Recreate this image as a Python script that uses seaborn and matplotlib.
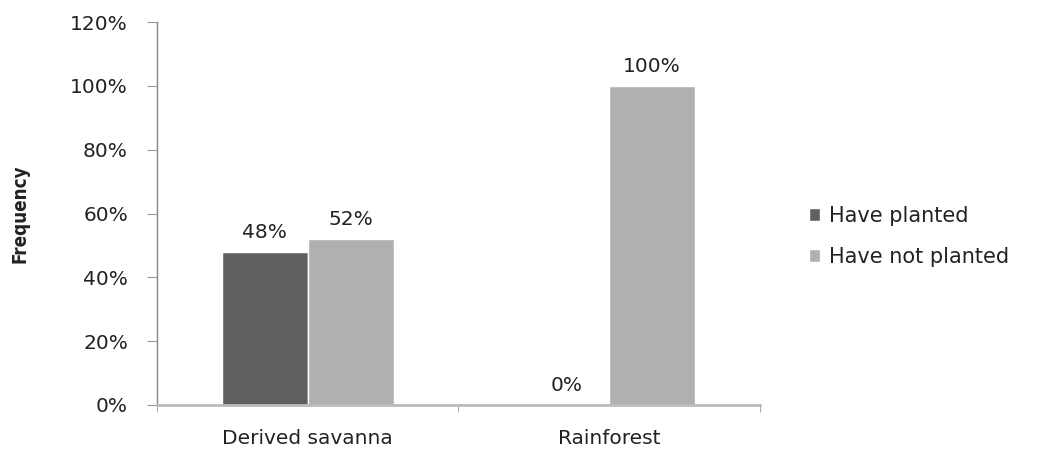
import matplotlib
matplotlib.use("Agg")
import matplotlib.pyplot as plt
import seaborn as sns
import pandas as pd
from matplotlib.ticker import FixedLocator

# Share of respondents by zone
zones = ["Derived savanna", "Rainforest"]
have_planted = [48, 0]
have_not_planted = [52, 100]
series_names = ["Have planted", "Have not planted"]
y_ticks = [0, 20, 40, 60, 80, 100, 120]

df = pd.DataFrame({
    "zone": zones * 2,
    "value": have_planted + have_not_planted,
    "group": [series_names[0]] * len(zones) + [series_names[1]] * len(zones),
})

sns.set_style("white")
plt.rcParams["font.family"] = ["DejaVu Sans"]

fig = plt.figure(figsize=(10.54, 4.51), dpi=100)
ax = fig.add_axes([0.149, 0.102, 0.572, 0.849])

sns.barplot(data=df, x="zone", y="value", hue="group", hue_order=series_names,
            palette=["#606060", "#b0b0b0"], width=0.57, saturation=1,
            ax=ax, legend=True)

for cont in ax.containers:
    ax.bar_label(cont, labels=[f"{v:.0f}%" for v in cont.datavalues],
                 padding=7, fontsize=14.5, color="#222222")

ax.set_ylim(0, 120)
ax.set_xlim(-0.5, 1.5)
ax.set_yticks(y_ticks)
ax.set_yticklabels([f"{t}%" for t in y_ticks], fontsize=14.5, color="#222222")
ax.tick_params(axis="y", length=7, color="#999999", direction="out", pad=14, left=True)
ax.set_xticks([0, 1])
ax.set_xticklabels(zones, fontsize=14.5, color="#222222")
ax.tick_params(axis="x", length=0, pad=17)
ax.xaxis.set_minor_locator(FixedLocator([-0.5, 0.5, 1.5]))
ax.tick_params(axis="x", which="minor", length=5, color="#999999", bottom=True)

ax.set_xlabel("")
ax.set_ylabel("Frequency", fontsize=13.5, fontweight="bold", fontstretch="condensed",
              color="#222222", labelpad=29)

for side in ["top", "right"]:
    ax.spines[side].set_visible(False)
ax.spines["left"].set_color("#888888")
ax.spines["left"].set_linewidth(1.0)
ax.spines["bottom"].set_color("#bbbbbb")
ax.spines["bottom"].set_linewidth(2.0)

leg = ax.legend(loc="center left", bbox_to_anchor=(1.05, 0.44), frameon=False,
                fontsize=15, handlelength=0.55, handleheight=0.55, handletextpad=0.4,
                labelspacing=1.0)
for t in leg.get_texts():
    t.set_color("#222222")

fig.savefig("out.png", dpi=100)
